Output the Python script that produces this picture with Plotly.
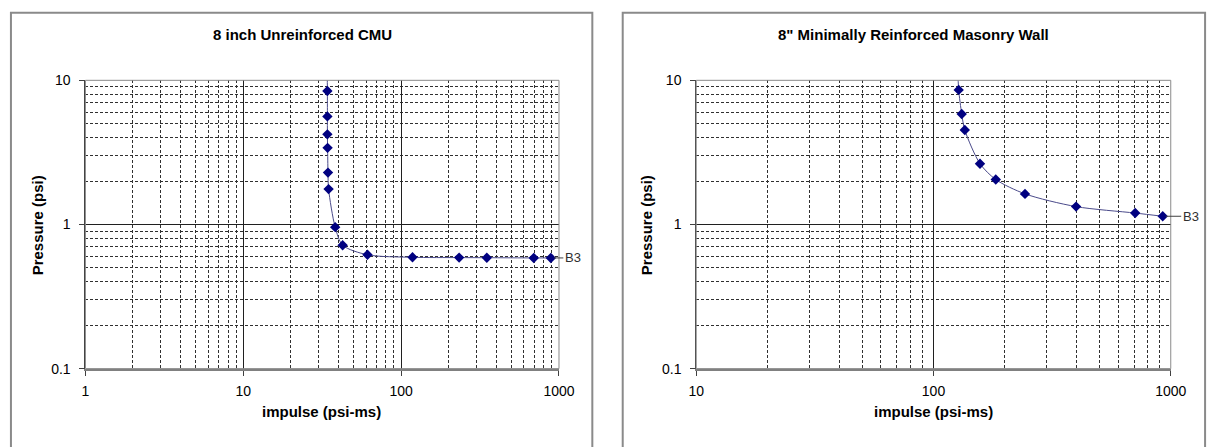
import math
import plotly.graph_objects as go

W, H = 1225, 447

# ---------------- data ----------------
left_title = "8 inch Unreinforced CMU"
right_title = "8\" Minimally Reinforced Masonry Wall"
x_title = "impulse (psi-ms)"
y_title = "Pressure (psi)"
series_label = "B3"

left_impulse = [34.0, 34.1, 34.1, 34.1, 34.2, 34.4, 34.7, 38.2, 42.6, 61.2, 118, 233, 349, 692, 888]
left_pressure = [12.0, 8.44, 5.62, 4.22, 3.40, 2.29, 1.76, 0.958, 0.718, 0.616, 0.592, 0.589, 0.588, 0.586, 0.586]

right_impulse = [126.5, 127.7, 131.5, 135.5, 157, 183, 243, 399, 708, 925]
right_pressure = [12.0, 8.58, 5.84, 4.52, 2.64, 2.05, 1.63, 1.33, 1.20, 1.14]

left_xticks = [1, 10, 100, 1000]
left_xticktext = ["1", "10", "100", "1000"]
right_xticks = [10, 100, 1000]
right_xticktext = ["10", "100", "1000"]
yticks = [0.1, 1, 10]
yticktext = ["0.1", "1", "10"]

# ---------------- layout geometry (pixels) ----------------
def px_x(p):
    return p / W

def px_y(p):
    return 1 - p / H

FONT = "Liberation Sans, Arial, sans-serif"
LINE_COLOR = "#4a4a8a"
MARKER_COLOR = "#000080"

fig = go.Figure()

for xs, ys, xa, ya in [(left_impulse, left_pressure, "x", "y"),
                       (right_impulse, right_pressure, "x2", "y2")]:
    fig.add_trace(go.Scatter(
        x=xs, y=ys, xaxis=xa, yaxis=ya, mode="lines+markers",
        line=dict(color=LINE_COLOR, width=1, shape="spline", smoothing=0.8),
        marker=dict(symbol="diamond", size=8, color=MARKER_COLOR),
        showlegend=False, cliponaxis=True,
    ))

def xaxis_cfg(domain, rng, tv, tt, anchor):
    return dict(
        type="log", range=rng, domain=domain, anchor=anchor,
        tickmode="array", tickvals=tv, ticktext=tt,
        ticks="outside", ticklen=5, tickcolor="#404040", tickwidth=1,
        showgrid=True, gridcolor="#202020", gridwidth=1,
        minor=dict(showgrid=True, gridcolor="#303030", griddash="3px,2px",
                   gridwidth=1, dtick="D1", ticks=""),
        showline=True, linecolor="#808080", linewidth=2,
        tickfont=dict(family=FONT, size=14, color="black"),
        ticklabelstandoff=4, zeroline=False, fixedrange=True,
    )

def yaxis_cfg(anchor):
    return dict(
        type="log", range=[-1, 1], domain=[px_y(374), px_y(75)], anchor=anchor,
        tickmode="array", tickvals=yticks, ticktext=yticktext,
        ticks="outside", ticklen=5, tickcolor="#404040", tickwidth=1,
        showgrid=True, gridcolor="#202020", gridwidth=1,
        minor=dict(showgrid=True, gridcolor="#303030", griddash="3px,2px",
                   gridwidth=1, dtick="D1", ticks=""),
        showline=True, linecolor="#404040", linewidth=1,
        tickfont=dict(family=FONT, size=14, color="black"),
        ticklabelstandoff=6, zeroline=False, fixedrange=True,
    )

shapes = []
# chart frames
for x0, x1 in [(3, 596), (627, 1221)]:
    shapes.append(dict(type="rect", xref="paper", yref="paper",
                       x0=px_x(x0), x1=px_x(x1), y0=-0.05, y1=px_y(5),
                       line=dict(color="#8a8a8a", width=2), layer="below"))
# plot-area borders
for xr, yr in [("x domain", "y domain"), ("x2 domain", "y2 domain")]:
    shapes.append(dict(type="rect", xref=xr, yref=yr, x0=0, x1=1, y0=0, y1=1,
                       line=dict(color="#8a8a8a", width=1), layer="above"))

annotations = []
# titles
for cx, t in [(300, left_title), (924, right_title)]:
    annotations.append(dict(text="<b>%s</b>" % t, xref="paper", yref="paper",
                            x=px_x(cx), y=px_y(27), showarrow=False,
                            xanchor="center", yanchor="middle",
                            font=dict(family=FONT, size=15, color="black")))
# axis titles
for cx in [320, 944]:
    annotations.append(dict(text="<b>%s</b>" % x_title, xref="paper", yref="paper",
                            x=px_x(cx), y=px_y(418), showarrow=False,
                            xanchor="center", yanchor="middle",
                            font=dict(family=FONT, size=15, color="black")))
for cx in [31, 652]:
    annotations.append(dict(text="<b>%s</b>" % y_title, xref="paper", yref="paper",
                            x=px_x(cx), y=px_y(225), showarrow=False, textangle=-90,
                            xanchor="center", yanchor="middle",
                            font=dict(family=FONT, size=15, color="black")))
# series labels with leader lines (log axes take log10 positions)
for xs, ys, xr, yr, ax in [(left_impulse, left_pressure, "x", "y", 22),
                           (right_impulse, right_pressure, "x2", "y2", 28)]:
    annotations.append(dict(text=series_label, xref=xr, yref=yr,
                            x=math.log10(xs[-1]), y=math.log10(ys[-1]),
                            ax=ax, ay=0,
                            showarrow=True, arrowhead=0, arrowwidth=1, arrowcolor="#404040",
                            standoff=3, font=dict(family=FONT, size=13, color="#303030")))

fig.update_layout(
    width=W, height=H, autosize=False,
    margin=dict(l=0, r=0, t=0, b=0),
    paper_bgcolor="white", plot_bgcolor="white",
    xaxis=xaxis_cfg([px_x(79), px_x(562)], [0, 3], left_xticks, left_xticktext, "y"),
    yaxis=yaxis_cfg("x"),
    xaxis2=xaxis_cfg([px_x(702), px_x(1186)], [1, 3], right_xticks, right_xticktext, "y2"),
    yaxis2=yaxis_cfg("x2"),
    shapes=shapes, annotations=annotations,
)

fig.write_html("out.html")
